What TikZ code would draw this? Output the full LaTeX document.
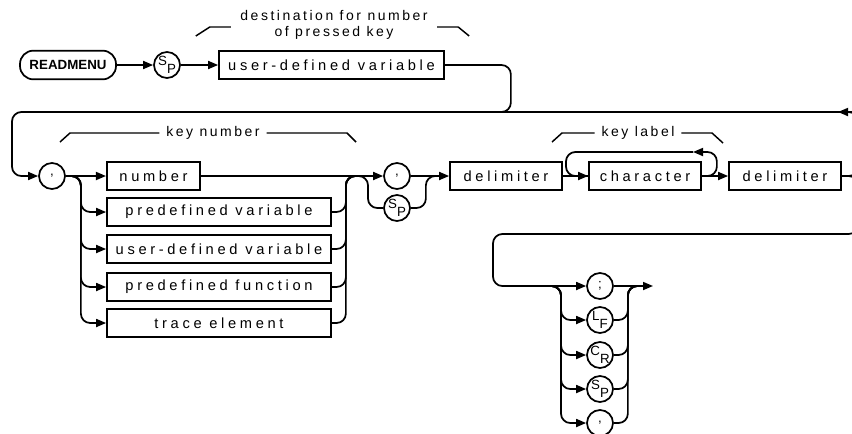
\documentclass[tikz,border=0pt]{standalone}
\usepackage{fontspec}
\usetikzlibrary{arrows.meta}
\newfontfamily\plotfont[LetterSpace=18]{Liberation Sans}
\newfontfamily\boxfont[LetterSpace=25]{Liberation Sans}
\newfontfamily\headfont{Liberation Sans}
\newcommand{\pair}[2]{\raisebox{3pt}{#1}\raisebox{-3pt}{#2}}

\begin{document}
\begin{tikzpicture}[
        x=0.75pt, y=-0.75pt,
        term/.style={rectangle, draw, line width=1.3pt, rounded corners=10pt, minimum width=72pt, minimum height=21.5pt, inner sep=0pt, font=\headfont\bfseries\fontsize{10}{12}\selectfont},
        box/.style={rectangle, draw, line width=1.3pt, minimum height=21pt, inner sep=0pt, font=\boxfont\fontsize{11}{13}\selectfont},
        token/.style={circle, draw, line width=1.3pt, minimum size=19.5pt, inner sep=0pt, font=\headfont\fontsize{10}{12}\selectfont},
        note/.style={inner sep=0pt, align=center, font=\plotfont\fontsize{10.5}{12.5}\selectfont},
        bracket/.style={line width=1.1pt},
        wire/.style={line width=1.3pt, rounded corners=7pt},
        flow/.style={wire, -{Triangle[length=7.5pt, width=6pt]}}
    ]
    \useasboundingbox (0,0) rectangle (852,433);
    \clip (0,0) rectangle (852,433);

    % Row 1
    \node[term] (readmenu) at (68,65) {READMENU};
    \node[token] (sp1) at (167,65) {\pair{S}{P}};
    \node[box, minimum width=168.75pt] (udv1) at (331.5,65) {user-defined variable};
    \node[note] (dest) at (334,25) {destination for number\\of pressed key};
    \draw[bracket] ([xshift=-7pt, yshift=-1.5pt]dest.west) -- ++(-21,0) -- ++(-14,9);
    \draw[bracket] ([xshift=7pt, yshift=-1.5pt]dest.east) -- ++(21,0) -- ++(11,9);

    % Row 2
    \node[token] (comma1) at (52,176) {,};
    \node[box, minimum width=70pt] (number) at (153.5,176) {number};
    \node[box, minimum width=168pt] (pvar) at (219,212) {predefined variable};
    \node[box, minimum width=168pt] (uvar) at (219,249) {user-defined variable};
    \node[box, minimum width=168pt] (pfun) at (219,287) {predefined function};
    \node[box, minimum width=168pt] (trace) at (219,323) {trace element};
    \node[token] (comma2) at (397,176) {,};
    \node[token] (sp2) at (397,208) {\pair{S}{P}};
    \node[box, minimum width=84pt] (delim1) at (506,176) {delimiter};
    \node[box, minimum width=84pt] (char) at (645,176) {character};
    \node[box, minimum width=84pt] (delim2) at (785,176) {delimiter};
    \node[note] (keynum) at (213,133) {key number};
    \draw[bracket] ([xshift=-5pt]keynum.west) -- (70,133) -- (60,142);
    \draw[bracket] ([xshift=5pt]keynum.east) -- (347,133) -- (356,142);
    \node[note] (keylab) at (638,133) {key label};
    \draw[bracket] ([xshift=-5pt]keylab.west) -- (562,133) -- (552,142);
    \draw[bracket] ([xshift=5pt]keylab.east) -- (712,133) -- (723,143);

    % Row 3
    \node[token] (semi) at (600,286) {;};
    \node[token] (lf) at (600,320) {\pair{L}{F}};
    \node[token] (cr) at (600,355) {\pair{C}{R}};
    \node[token] (sp3) at (600,389) {\pair{S}{P}};
    \node[token] (comma3) at (600,423) {,};

    \coordinate (retR) at (858,112);
    \coordinate (retL) at (12,112);
    \coordinate (down) at (858,234);
    \coordinate (split2) at (355,176);
    \coordinate (join2) at (440,176);
    \coordinate (split3) at (545,286);
    \coordinate (join3) at (640,286);
    \coordinate (exit) at (653,286);

    % Connectors
    \draw[flow] (readmenu) -- (sp1);
    \draw[flow] (sp1) -- (udv1);
    \draw[wire] (udv1.east) -- ++(66,0) |- (480,112);
    \draw[flow] (delim2.east) -| (retR) -- (retL) |- (comma1.west);
    \draw[flow] (retR) -- (838,112);
    \draw[flow] (delim2.east) -| (down) -- (493,234) |- (semi.west);

    \draw[flow] (comma1) -- (number);
    \foreach \name in {pvar,uvar,pfun,trace}
        \draw[flow] (comma1.east) -- ++(15,0) |- (\name.west);
    \foreach \name in {pvar,uvar,pfun,trace}
        \draw[wire] (\name.east) -- ++(14,0) |- (370,176);
    \draw[flow] (number) -- (comma2);
    \draw[wire] (split2) -- ++(13,0) |- (sp2.west);
    \draw[wire] (sp2.east) -- ++(15,0) |- (join2);
    \draw[flow] (comma2) -- (delim1);
    \draw[flow] (delim1) -- (char);
    \draw[flow] (char.east) -- ++(15,0) |- (693,152);
    \draw[wire] (693,152) -- (566,152) |- (char.west);
    \draw[flow] (char) -- (delim2);

    \draw[flow] (semi) -- (exit);
    \foreach \name in {lf,cr,sp3,comma3}
        \draw[flow] (split3) -- ++(16,0) |- (\name.west);
    \foreach \name in {lf,cr,sp3,comma3}
        \draw[wire] (\name.east) -- ++(14,0) |- (join3);
\end{tikzpicture}
\end{document}
